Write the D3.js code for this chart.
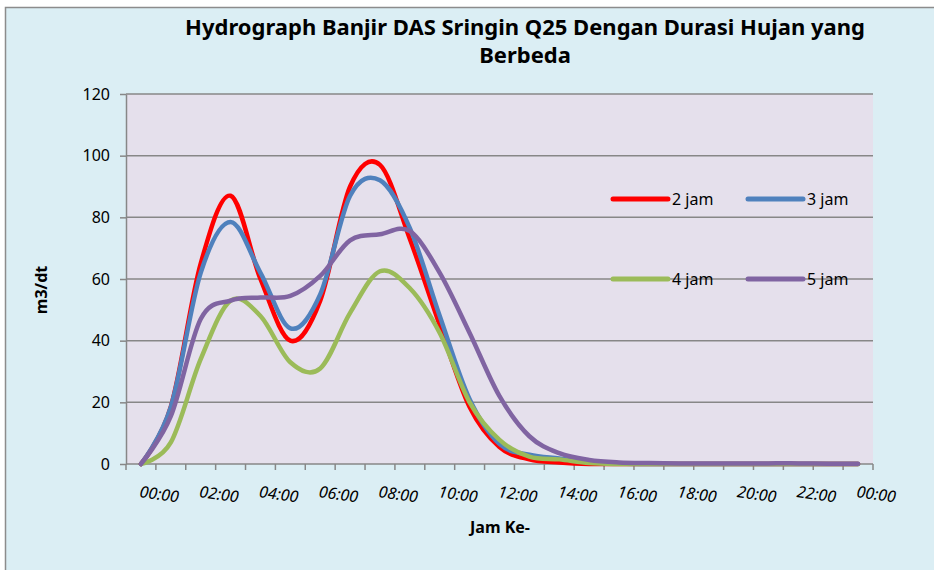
<!DOCTYPE html>
<html>
<head>
<meta charset="utf-8">
<script src="https://cdn.jsdelivr.net/npm/d3@7"></script>
<style>
  body { margin: 0; background: #fff; }
  svg { display: block; }
</style>
</head>
<body>
<svg id="chart" width="934" height="570"></svg>
<script>
// jam ke- (0..24), label tiap 2 jam
var hours = ["00:00","01:00","02:00","03:00","04:00","05:00","06:00","07:00","08:00","09:00","10:00","11:00",
  "12:00","13:00","14:00","15:00","16:00","17:00","18:00","19:00","20:00","21:00","22:00","23:00","00:00"];

// debit m3/dt
var q2jam = [0, 18.5, 65, 87, 60, 40, 53, 90, 97, 73, 45, 18.5, 5.5, 1.5, 0.5, 0, 0, 0, 0, 0, 0, 0, 0, 0, 0];
var q3jam = [0, 18.5, 62, 78.5, 62, 44, 55, 87, 92, 76.5, 48, 21, 6.5, 3, 1.8, 0.7, 0.2, 0, 0, 0, 0, 0, 0, 0, 0];
var q4jam = [0, 7, 34, 53, 48, 33, 31, 49, 62.5, 57, 42.5, 20, 7.8, 2.4, 1.5, 0.3, 0, 0, 0, 0, 0, 0, 0, 0, 0];
var q5jam = [0, 15.5, 47, 53, 54, 54.5, 61, 72.5, 74.5, 75.5, 62, 42.5, 22, 9, 3.5, 1.3, 0.5, 0.3, 0.2, 0.2, 0.2, 0.2, 0.2, 0.1, 0.1];

var seriesNames = ["2 jam", "3 jam", "4 jam", "5 jam"];
var seriesColors = ["#ff0000", "#4f81bd", "#9bbb59", "#8064a2"];
var yTicks = [0, 20, 40, 60, 80, 100, 120];

var series = [q2jam, q3jam, q4jam, q5jam].map(function(v, i) {
  return { name: seriesNames[i], color: seriesColors[i], values: v };
});

var svg = d3.select("#chart");
var font = "'Noto Sans', 'DejaVu Sans', sans-serif";

// background + border
svg.append("rect").attr("width", 934).attr("height", 570).attr("fill", "#fff");
svg.append("rect")
  .attr("x", 5.5).attr("y", 7.5).attr("width", 960).attr("height", 600)
  .attr("fill", "#dbeef4").attr("stroke", "#8c8c8c").attr("stroke-width", 1.5);

var pLeft = 126, pRight = 873, pTop = 94, pBottom = 464;

var x = d3.scaleBand().domain(d3.range(hours.length)).range([pLeft, pRight]).padding(0);
var y = d3.scaleLinear().domain([0, 120]).range([pBottom, pTop]);
var cx = function(i) { return x(i) + x.bandwidth() / 2; };

// plot area
svg.append("rect")
  .attr("x", pLeft).attr("y", pTop).attr("width", pRight - pLeft).attr("height", pBottom - pTop)
  .attr("fill", "#e5e0ec");

// gridlines
svg.append("g").selectAll("line")
  .data(yTicks.filter(function(d) { return d > 0; }))
  .enter().append("line")
  .attr("x1", pLeft).attr("x2", pRight)
  .attr("y1", function(d) { return y(d); }).attr("y2", function(d) { return y(d); })
  .attr("stroke", "#878787").attr("stroke-width", 1.5);

// y axis
var yAxis = svg.append("g")
  .attr("transform", "translate(" + pLeft + ",0)")
  .call(d3.axisLeft(y).tickValues(yTicks).tickSize(6).tickPadding(10).tickSizeOuter(0));
yAxis.select(".domain").attr("stroke", "#878787").attr("stroke-width", 1.5);
yAxis.selectAll(".tick line").attr("stroke", "#878787").attr("stroke-width", 1.5);
yAxis.selectAll(".tick text")
  .attr("font-family", font).attr("font-size", 16).attr("fill", "#000");

// x axis: ticks at category boundaries
var xg = svg.append("g");
xg.append("line")
  .attr("x1", pLeft).attr("x2", pRight).attr("y1", pBottom).attr("y2", pBottom)
  .attr("stroke", "#878787").attr("stroke-width", 1.5);
xg.selectAll("line.tk")
  .data(d3.range(hours.length + 1))
  .enter().append("line")
  .attr("class", "tk")
  .attr("x1", function(i) { return pLeft + i * x.bandwidth(); })
  .attr("x2", function(i) { return pLeft + i * x.bandwidth(); })
  .attr("y1", pBottom).attr("y2", pBottom + 6)
  .attr("stroke", "#878787").attr("stroke-width", 1.5);
xg.selectAll("text")
  .data(d3.range(0, hours.length, 2))
  .enter().append("text")
  .attr("transform", function(i) { return "translate(" + (cx(i) - 2) + ",497) rotate(8)"; })
  .attr("font-family", font).attr("font-size", 16).attr("font-style", "italic")
  .text(function(i) { return hours[i]; });

// lines (Excel-like smoothing)
var line = d3.line()
  .x(function(d, i) { return cx(i); })
  .y(function(d) { return y(d); })
  .curve(d3.curveCardinal.tension(0));

svg.append("g").selectAll("path")
  .data(series)
  .enter().append("path")
  .attr("d", function(s) { return line(s.values); })
  .attr("fill", "none")
  .attr("stroke", function(s) { return s.color; })
  .attr("stroke-width", 4.5)
  .attr("stroke-linejoin", "round")
  .attr("stroke-linecap", "round");

// legend
var legendPos = [[613, 199], [748, 199], [613, 279], [748, 279]];
var lg = svg.append("g").selectAll("g")
  .data(series)
  .enter().append("g")
  .attr("transform", function(s, i) { return "translate(" + legendPos[i][0] + "," + legendPos[i][1] + ")"; });
lg.append("line")
  .attr("x1", 0).attr("x2", 55).attr("y1", 0).attr("y2", 0)
  .attr("stroke", function(s) { return s.color; })
  .attr("stroke-width", 5).attr("stroke-linecap", "round");
lg.append("text")
  .attr("x", 59).attr("y", 6)
  .attr("font-family", font).attr("font-size", 16)
  .text(function(s) { return s.name; });

// title
var title = svg.append("text")
  .attr("text-anchor", "middle")
  .attr("font-family", font).attr("font-size", 22).attr("font-weight", "bold");
title.append("tspan").attr("x", 525).attr("y", 35).text("Hydrograph Banjir DAS Sringin Q25 Dengan Durasi Hujan yang");
title.append("tspan").attr("x", 525).attr("y", 63).text("Berbeda");

// axis titles
svg.append("text")
  .attr("x", 500).attr("y", 533)
  .attr("text-anchor", "middle")
  .attr("font-family", font).attr("font-size", 16).attr("font-weight", "bold")
  .text("Jam Ke-");
svg.append("text")
  .attr("transform", "translate(47,290) rotate(-90)")
  .attr("text-anchor", "middle")
  .attr("font-family", font).attr("font-size", 16).attr("font-weight", "bold")
  .text("m3/dt");
</script>
</body>
</html>
